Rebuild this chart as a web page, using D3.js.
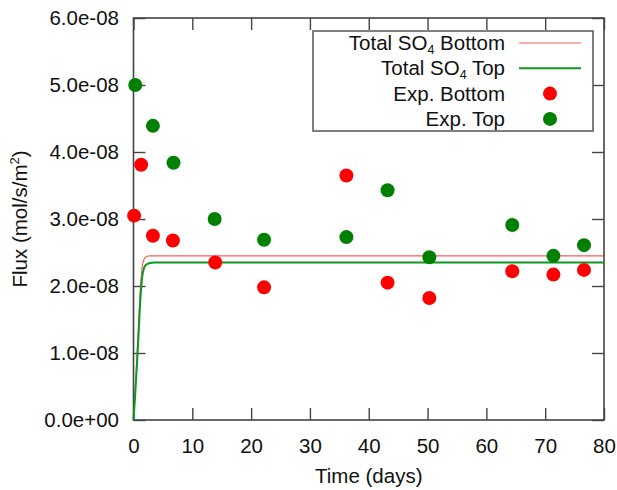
<!DOCTYPE html>
<html>
<head>
<meta charset="utf-8">
<script src="https://cdn.jsdelivr.net/npm/d3@7/dist/d3.min.js"></script>
<style>
  html, body { margin: 0; padding: 0; background: #fff; }
  svg { display: block; font-family: "Liberation Sans", Arial, sans-serif; }
</style>
</head>
<body>
<svg id="chart" width="617" height="490"></svg>
<script>
// Measured sulfate flux at the top and bottom of the column
const expTime = [0.1, 1.3, 3.3, 6.7, 13.9, 22.2, 36.2, 43.2, 50.3, 64.4, 71.4, 76.6];
const expBottom = [3.05e-8, 3.81e-8, 2.75e-8, 2.68e-8, 2.35e-8, 1.98e-8, 3.65e-8, 2.05e-8, 1.82e-8, 2.22e-8, 2.17e-8, 2.24e-8];
const expTopTime = [0.3, 3.3, 6.8, 13.8, 22.2, 36.2, 43.2, 50.3, 64.4, 71.4, 76.6];
const expTop = [5.0e-8, 4.39e-8, 3.84e-8, 3.0e-8, 2.69e-8, 2.73e-8, 3.43e-8, 2.43e-8, 2.91e-8, 2.45e-8, 2.61e-8];

// Simulated total SO4 flux
const modelTime = [0, 0.3, 0.6, 0.9, 1.2, 1.5, 1.8, 2.2, 2.7, 3.5, 5, 10, 20, 40, 60, 80];
const modelBottom = [0, 0.45e-8, 0.95e-8, 1.5e-8, 2.0e-8, 2.3e-8, 2.4e-8, 2.44e-8, 2.45e-8, 2.45e-8, 2.45e-8, 2.45e-8, 2.45e-8, 2.45e-8, 2.45e-8, 2.45e-8];
const modelTop = [0, 0.4e-8, 0.85e-8, 1.35e-8, 1.85e-8, 2.15e-8, 2.27e-8, 2.32e-8, 2.34e-8, 2.35e-8, 2.35e-8, 2.35e-8, 2.35e-8, 2.35e-8, 2.35e-8, 2.35e-8];

// Axis ticks
const xTicks = [0, 10, 20, 30, 40, 50, 60, 70, 80];
const yTicks = [0, 1e-8, 2e-8, 3e-8, 4e-8, 5e-8, 6e-8];
const yTickLabels = ["0.0e+00", "1.0e-08", "2.0e-08", "3.0e-08", "4.0e-08", "5.0e-08", "6.0e-08"];

const RED = "#ff0000", GREEN = "#008000", LINE_GREEN = "#0a9a1e";
const plotLeft = 133.5, plotRight = 604, plotTop = 18, plotBottom = 420;
const svg = d3.select("#chart");
const x = d3.scaleLinear().domain([0, 80]).range([plotLeft, plotRight]);
const y = d3.scaleLinear().domain([0, 6e-8]).range([plotBottom, plotTop]);
const tickLen = 12;
const fontSize = 20.5;

function styleAxis(g) {
  g.select(".domain").remove();
  g.selectAll(".tick line").attr("stroke", "#444").attr("stroke-width", 1.4);
  g.selectAll(".tick text").attr("fill", "#111").attr("font-size", fontSize)
    .attr("font-family", "'Liberation Sans', Arial, sans-serif");
}

// Axes with inward ticks on all four sides
svg.append("g").attr("transform", `translate(0,${plotBottom})`)
  .call(d3.axisBottom(x).tickValues(xTicks).tickSizeInner(-tickLen).tickPadding(18.5).tickFormat(d3.format("d")))
  .call(styleAxis);
svg.append("g").attr("transform", `translate(${plotLeft},0)`)
  .call(d3.axisLeft(y).tickValues(yTicks).tickSizeInner(-tickLen).tickPadding(14.5)
    .tickFormat((d, i) => yTickLabels[i]))
  .call(styleAxis);
svg.append("g").attr("transform", `translate(0,${plotTop})`)
  .call(d3.axisTop(x).tickValues(xTicks).tickSizeInner(-tickLen).tickFormat(""))
  .call(styleAxis);
svg.append("g").attr("transform", `translate(${plotRight},0)`)
  .call(d3.axisRight(y).tickValues(yTicks).tickSizeInner(-tickLen).tickFormat(""))
  .call(styleAxis);

// Plot frame
svg.append("rect")
  .attr("x", plotLeft).attr("y", plotTop)
  .attr("width", plotRight - plotLeft).attr("height", plotBottom - plotTop)
  .attr("fill", "none").attr("stroke", "#444").attr("stroke-width", 1.6);

// Axis titles
svg.append("text")
  .attr("x", (plotLeft + plotRight) / 2).attr("y", 483)
  .attr("text-anchor", "middle").attr("font-size", fontSize).attr("fill", "#111")
  .text("Time (days)");

const yTitle = svg.append("text")
  .attr("transform", `translate(27,${(plotTop + plotBottom) / 2}) rotate(-90)`)
  .attr("text-anchor", "middle").attr("font-size", fontSize).attr("fill", "#111");
yTitle.append("tspan").text("Flux (mol/s/m");
yTitle.append("tspan").attr("dy", -8).attr("font-size", 13).text("2");
yTitle.append("tspan").attr("dy", 8).text(")");

// Model curves
const line = d3.line().curve(d3.curveMonotoneX);
svg.append("path")
  .attr("d", line(modelTime.map((t, i) => [x(t), y(modelBottom[i])])))
  .attr("fill", "none").attr("stroke", RED).attr("stroke-width", 1.2).attr("stroke-opacity", 0.65);
svg.append("path")
  .attr("d", line(modelTime.map((t, i) => [x(t), y(modelTop[i])])))
  .attr("fill", "none").attr("stroke", LINE_GREEN).attr("stroke-width", 2);

// Experimental points
const r = 7;
svg.append("g").selectAll("circle").data(expBottom).join("circle")
  .attr("cx", (d, i) => x(expTime[i])).attr("cy", d => y(d)).attr("r", r).attr("fill", RED);
svg.append("g").selectAll("circle").data(expTop).join("circle")
  .attr("cx", (d, i) => x(expTopTime[i])).attr("cy", d => y(d)).attr("r", r).attr("fill", GREEN);

// Legend
const lg = svg.append("g");
lg.append("rect").attr("x", 313).attr("y", 31).attr("width", 280).attr("height", 100)
  .attr("fill", "#fff").attr("stroke", "#555").attr("stroke-width", 1.5);
const rows = [
  { label: ["Total SO", "4", " Bottom"], type: "line", color: RED, w: 1.2, op: 0.65 },
  { label: ["Total SO", "4", " Top"], type: "line", color: LINE_GREEN, w: 2, op: 1 },
  { label: ["Exp. Bottom"], type: "dot", color: RED },
  { label: ["Exp. Top"], type: "dot", color: GREEN }
];
rows.forEach((row, i) => {
  const cy = 43 + i * 25.3;
  const t = lg.append("text").attr("x", 505).attr("y", cy + 7)
    .attr("text-anchor", "end").attr("font-size", fontSize).attr("fill", "#111");
  t.append("tspan").text(row.label[0]);
  if (row.label.length > 1) {
    t.append("tspan").attr("dy", 4).attr("font-size", 12.5).text(row.label[1]);
    t.append("tspan").attr("dy", -4).text(row.label[2]);
  }
  if (row.type === "line") {
    lg.append("line").attr("x1", 519).attr("x2", 581).attr("y1", cy).attr("y2", cy)
      .attr("stroke", row.color).attr("stroke-width", row.w).attr("stroke-opacity", row.op);
  } else {
    lg.append("circle").attr("cx", 550).attr("cy", cy).attr("r", r).attr("fill", row.color);
  }
});
</script>
</body>
</html>
